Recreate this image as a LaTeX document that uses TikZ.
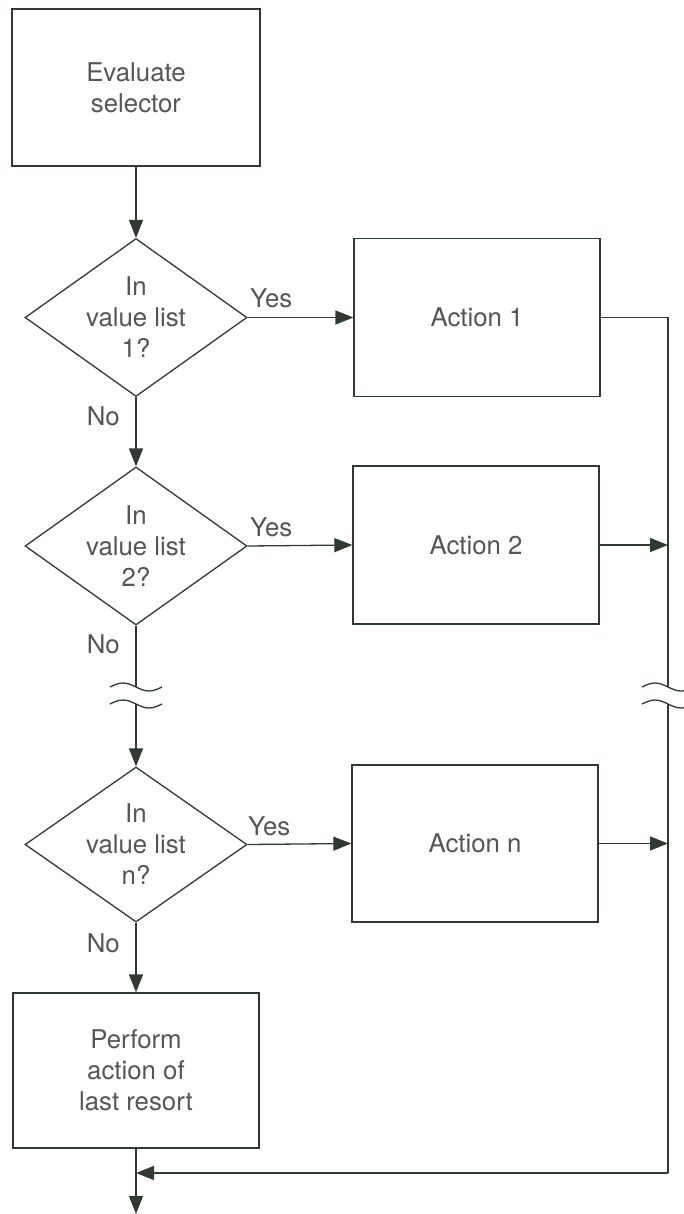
\documentclass[tikz,border=0pt]{standalone}
\usepackage{fontspec}
\setmainfont{TeX Gyre Heros}
\usetikzlibrary{shapes.geometric,arrows.meta}
\definecolor{ink}{HTML}{2E3A32}
\definecolor{type}{HTML}{555555}

\begin{document}
\begin{tikzpicture}[x=1pt,y=-1pt,
		box/.style={draw=ink,line width=1.3pt,minimum width=246pt,minimum height=158pt,text=type,align=center,font=\fontsize{25.8}{31}\selectfont},
		test/.style={diamond,aspect=1.4,inner sep=0pt,draw=ink,line width=1.3pt,minimum width=222pt,minimum height=158pt,text=type,align=center,font=\fontsize{25.8}{31}\selectfont},
		flow/.style={draw=ink,line width=1.3pt,-{Triangle[length=18pt,width=14pt]}},
		link/.style={draw=ink,line width=1.3pt},
		tag/.style={inner sep=0pt,text=type,font=\fontsize{25.8}{31}\selectfont}]
				\useasboundingbox (0,0) rectangle (684,1214);
				% left column
				\node[box,minimum width=248pt,minimum height=157pt] (eval) at (136,87.5) {Evaluate\\selector};
				\node[test] (d1) at (136,317.5) {In\\value list\\1?};
				\node[test] (d2) at (136,546) {In\\value list\\2?};
				\node[test,minimum height=155pt] (d3) at (136,844.5) {In\\value list\\n?};
				\node[box,minimum height=155pt] (last) at (136,1070.5) {Perform\\action of\\last resort};
				% right column
				\node[box] (a1) at (477,317.5) {Action 1};
				\node[box] (a2) at (476,545) {Action 2};
				\node[box,minimum height=157pt] (an) at (475,843.5) {Action n};
				% labels
				\node[tag,anchor=base west] (yes1) at (250,308) {Yes};
				\node[tag,anchor=base west] (yes2) at (250,536) {Yes};
				\node[tag,anchor=base west] (yes3) at (248,835) {Yes};
				\node[tag,anchor=base east] (no1) at (120,425) {No};
				\node[tag,anchor=base east] (no2) at (120,653) {No};
				\node[tag,anchor=base east] (no3) at (120,952) {No};
				% points
				\coordinate (cut1) at (136,687);
				\coordinate (cut2) at (136,704);
				\coordinate (r1) at (668,317.5);
				\coordinate (rcut1) at (668,687);
				\coordinate (rcut2) at (668,704);
				\coordinate (r4) at (668,1173);
				\coordinate (join) at (136,1173);
				\coordinate (out) at (136,1214);
				% connectors
				\draw[flow] (eval) -- (d1);
				\draw[flow] (d1) -- (d2);
				\draw[link] (d2) -- (cut1);
				\draw[flow] (cut2) -- (d3);
				\draw[flow] (d3) -- (last);
				\draw[flow] (last.south) -- (out);
				\draw[flow] (d1.east) -- (a1.west);
				\draw[flow] (d2.east) -- (a2.west);
				\draw[flow] (d3.east) -- (an.west);
				\draw[link] (a1.east) -- (r1) -- (rcut1);
				\draw[link] (rcut2) -- (r4);
				\draw[flow] (r4) -- (join);
				\draw[flow] (a2.east) -- (a2.east -| r1);
				\draw[flow] (an.east) -- (an.east -| r1);
				% breaks
				\draw[link] (110,687) sin (123,683) cos (136,687) sin (149,691) cos (162,687);
				\draw[link] (110,704) sin (123,700) cos (136,704) sin (149,708) cos (162,704);
				\draw[link] (642,687) sin (655,683) cos (668,687) sin (681,691) cos (694,687);
				\draw[link] (642,704) sin (655,700) cos (668,704) sin (681,708) cos (694,704);
			\end{tikzpicture}
\end{document}
